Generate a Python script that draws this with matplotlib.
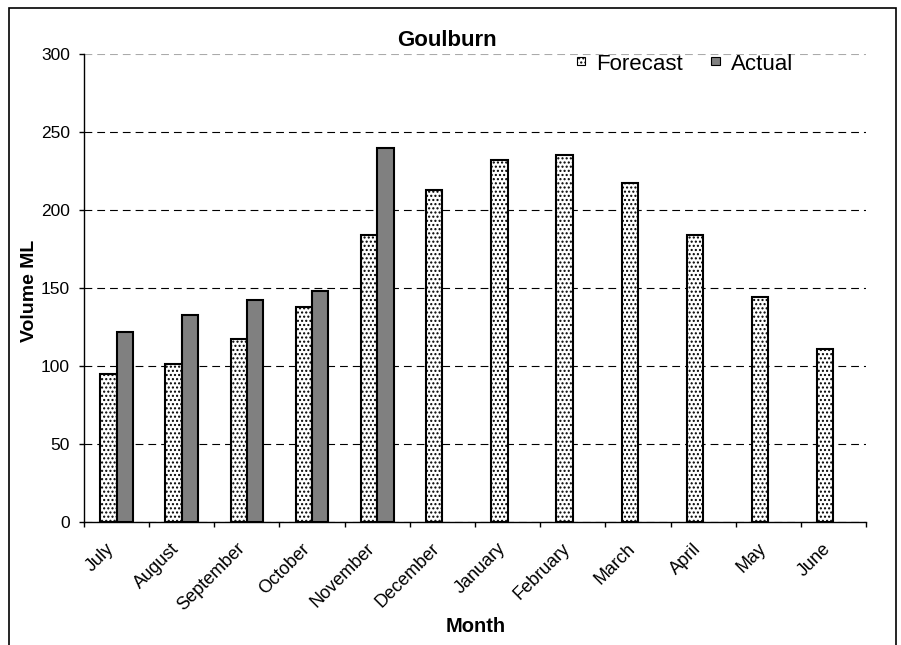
import matplotlib.pyplot as plt
import matplotlib.transforms as mtransforms
import numpy as np
from matplotlib.patches import Rectangle

months = ["July", "August", "September", "October", "November", "December",
          "January", "February", "March", "April", "May", "June"]
forecast = [95, 101, 117, 138, 184, 213, 232, 235, 217, 184, 144, 111]
actual = [122, 133, 142, 148, 240]
y_ticks = [0, 50, 100, 150, 200, 250, 300]

plt.rcParams["font.family"] = ["Liberation Sans", "DejaVu Sans"]
plt.rcParams["hatch.linewidth"] = 1.0

fig = plt.figure(figsize=(9.01, 6.45), dpi=100)
ax = fig.add_axes([84 / 901, 1 - 522 / 645, 782 / 901, 468 / 645])

x = np.arange(len(months))
width = 0.25
ax.bar(x[:len(forecast)] - width / 2, forecast, width, facecolor="white",
       edgecolor="black", linewidth=1.5, hatch="....", label="Forecast", zorder=3)
ax.bar(x[:len(actual)] + width / 2, actual, width, facecolor="#808080",
       edgecolor="black", linewidth=1.5, label="Actual", zorder=3)

ax.set_xlim(-0.5, len(months) - 0.5)
ax.set_ylim(0, 300)
ax.set_yticks(y_ticks)
ax.set_yticklabels([str(v) for v in y_ticks], fontsize=12.5)
ax.yaxis.grid(True, linestyle=(0, (7, 4.5)), color="black", linewidth=0.8, zorder=0)
ax.get_ygridlines()[-1].set_color("#aaaaaa")

# month labels sit between the boundary ticks
ax.set_xticks(x)
ax.set_xticklabels(months, rotation=45, ha="right", rotation_mode="anchor", fontsize=13)
ax.tick_params(axis="x", length=0, pad=13)
shift = mtransforms.ScaledTranslation(-11 / 100, 0, fig.dpi_scale_trans)
for lbl in ax.get_xticklabels():
    lbl.set_transform(lbl.get_transform() + shift)
ax.set_xticks(np.arange(-0.5, len(months)), minor=True)
ax.tick_params(axis="x", which="minor", length=3.5, width=1, direction="out")
ax.tick_params(axis="y", length=3.6, width=1, direction="out", pad=6.5)

for side in ["top", "right"]:
    ax.spines[side].set_visible(False)
for side in ["left", "bottom"]:
    ax.spines[side].set_linewidth(1)

fig.text(30 / 901, 1 - 291 / 645, "Volume ML", rotation=90, ha="center", va="center",
         fontsize=14, fontweight="bold")
fig.text(476 / 901, 1 - 627 / 645, "Month", ha="center", va="center",
         fontsize=14.5, fontweight="bold")
fig.text(447 / 901, 1 - 41 / 645, "Goulburn", ha="center", va="center",
         fontsize=16, fontweight="bold")

leg = ax.legend(loc="center left", bbox_to_anchor=(577 / 901, 1 - 64 / 645),
                bbox_transform=fig.transFigure, ncol=2, frameon=False,
                fontsize=16, handlelength=0.38, handleheight=0.18, handletextpad=0.5,
                columnspacing=1.25, borderpad=0, borderaxespad=0)
for handle in leg.legend_handles:
    handle.set_linewidth(0.8)

fig.add_artist(Rectangle((9 / 901, -0.1), 887 / 901, 1.1 - 8 / 645,
                         transform=fig.transFigure, fill=False,
                         edgecolor="black", linewidth=1.2))

fig.savefig("out.png", dpi=100)
